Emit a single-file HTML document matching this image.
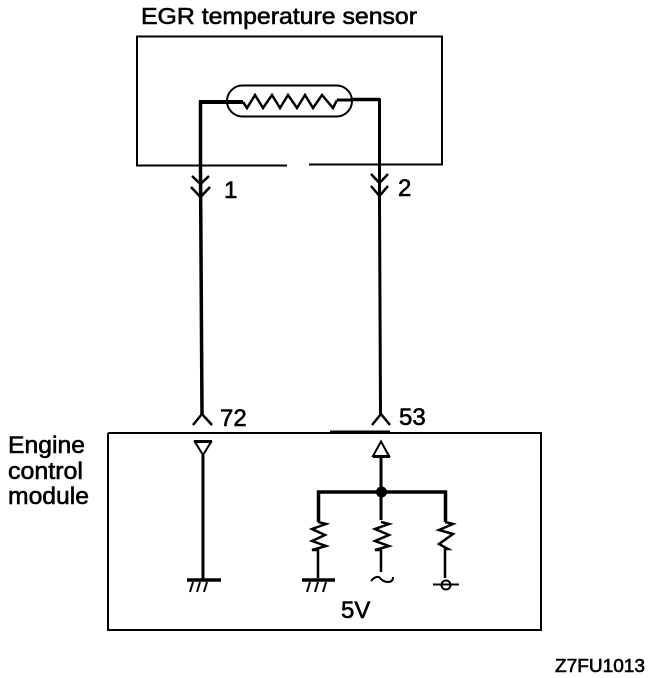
<!DOCTYPE html>
<html><head><meta charset="utf-8"><style>
html,body{margin:0;padding:0;background:#fff}
svg{display:block}
text{font-family:"Liberation Sans",sans-serif;fill:#000;stroke:#000;stroke-width:.6}
</style></head><body>
<svg width="656" height="678" viewBox="0 0 656 678" xmlns="http://www.w3.org/2000/svg">
<text x="141" y="24" font-size="23" textLength="276" lengthAdjust="spacingAndGlyphs">EGR temperature sensor</text>
<g fill="none" stroke="#000" stroke-width="2">
<path d="M287 165.500H137V36.500H442V164.500H309"/>
<rect x="227" y="85.500" width="125" height="31" rx="15.500"/>
<path d="M243 102L247 108L255 95L263 108L272 95L280 108L288 95L297 108L305 95L313 108L322 95L333 108L337 100" stroke-width="2.500"/>
<path d="M200.500 100.500V170L202 415" stroke-width="3.500"/>
<path d="M199 102H243" stroke-width="4"/>
<path d="M337 100H352" stroke-width="3"/>
<path d="M352 99.500H380.500" stroke-width="3.500"/>
<path d="M379.500 99V200L380.500 415" stroke-width="3"/>
<path d="M192 176L200.500 184L209 176M191 187L200.500 197L210 187" stroke-width="2.500"/>
<path d="M371 174L379.500 183L388 174M371 186L379.500 196L388 186" stroke-width="2.500"/>
<path d="M193 425L202 414L212 425M372 425L381 414L390 425" stroke-width="2.500"/>
<path d="M108 433H541V630H108V433" stroke-width="2"/>
<path d="M330 431.500H390" stroke-width="2"/>
<path d="M195 442H211L203 455Z" stroke-width="2"/>
<path d="M194 441.500H212" stroke-width="3"/>
<path d="M203 455V580" stroke-width="3"/>
<path d="M381 441.500L373 456H389Z" stroke-width="2"/>
<path d="M373 456.500H390" stroke-width="3"/>
<path d="M381 457V520" stroke-width="3"/>
<path d="M318.500 522V492H445.500V522" stroke-width="3.500"/>
<path d="M318 522L326 524L312 529L325 535L312 541L326 546L312 550H318V578" stroke-width="2.500"/>
<path d="M381 522L389 524L375 529L389 535L375 541L389 546L375 550H381V572" stroke-width="2.500"/>
<path d="M445 522L453 524L439 530L453 534L439 544L448 549H445V578" stroke-width="2.500"/>
<path d="M187 580H221M302 580H335" stroke-width="3.500"/>
<path d="M193 582L190 592M200 582L197 592M207 582L204 592M310 582L307 592M318 582L315 592M326 582L323 592" stroke-width="2"/>
<path d="M371 581Q375 576 379 577Q383 582 388 582Q393 582 393 577" stroke-width="2"/>
<circle cx="446" cy="585" r="4.500" stroke-width="2"/>
<path d="M433 584.500H459" stroke-width="2"/>
</g>
<circle cx="381.500" cy="492" r="5.500" fill="#000"/>
<text x="224" y="198" font-size="24">1</text>
<text x="398" y="196" font-size="24">2</text>
<text x="220" y="426" font-size="24">72</text>
<text x="399" y="425" font-size="24">53</text>
<text x="8" y="453" font-size="24" textLength="77" lengthAdjust="spacingAndGlyphs">Engine</text>
<text x="8" y="479" font-size="24" textLength="75" lengthAdjust="spacingAndGlyphs">control</text>
<text x="8" y="504" font-size="24" textLength="81" lengthAdjust="spacingAndGlyphs">module</text>
<text x="341" y="618" font-size="24">5V</text>
<text x="555" y="672" font-size="18" textLength="90" lengthAdjust="spacingAndGlyphs">Z7FU1013</text>
</svg>
</body></html>
